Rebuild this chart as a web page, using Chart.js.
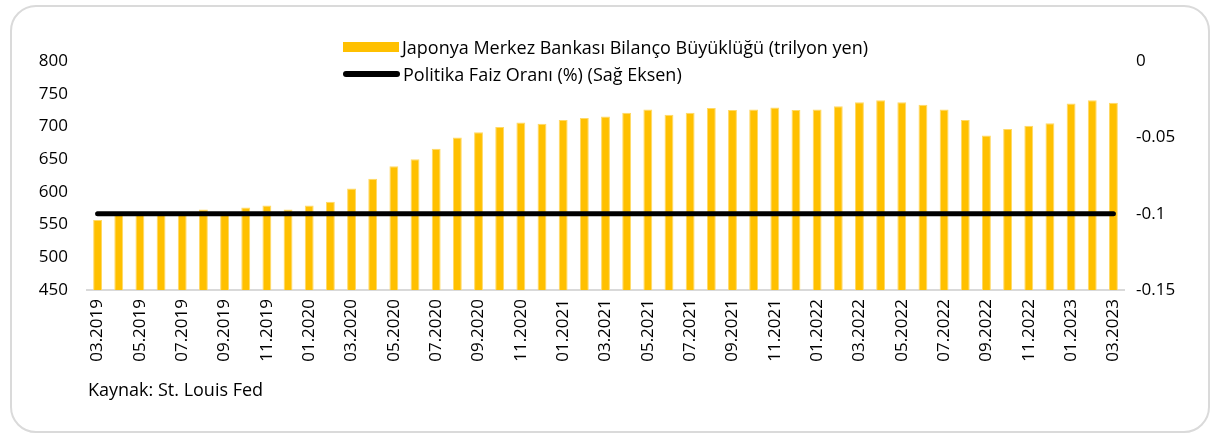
<!DOCTYPE html>
<html>
<head>
<meta charset="utf-8">
<script src="https://cdn.jsdelivr.net/npm/chart.js@4.4.0/dist/chart.umd.min.js"></script>
<style>
  body { margin: 0; background: #fff; font-family: "Open Sans", sans-serif; }
  #wrap { position: relative; width: 1219px; height: 439px; }
  #card {
    position: absolute; left: 10px; top: 5px; width: 1200px; height: 428px;
    border: 2px solid #dadada; border-radius: 26px; box-sizing: border-box;
  }
  #chartBox { position: absolute; left: 0; top: 0; width: 1219px; height: 439px; }
  .leg { position: absolute; left: 343px; font-size: 18px; color: #000; white-space: nowrap; line-height: 24px; }
  .leg span { display: inline-block; vertical-align: middle; }
  .sw-bar { width: 56px; height: 10px; background: #FFC000; margin-right: 3px; }
  .sw-line { width: 57px; height: 6px; background: #000; border-radius: 3px; margin-right: 3px; }
  #source { position: absolute; left: 88px; top: 377px; font-size: 18px; color: #000; line-height: 24px; }
</style>
</head>
<body>
<div id="wrap">
  <div id="card"></div>
  <div id="chartBox"><canvas id="myChart" width="1219" height="439"></canvas></div>
  <div class="leg" style="top:33px"><span class="sw-bar"></span><span>Japonya Merkez Bankası Bilanço Büyüklüğü (trilyon yen)</span></div>
  <div class="leg" style="top:60px"><span class="sw-line"></span><span>Politika Faiz Oranı (%) (Sağ Eksen)</span></div>
  <div id="source">Kaynak: St. Louis Fed</div>
</div>
<script>
const months = [
  '03.2019', '04.2019', '05.2019', '06.2019', '07.2019', '08.2019', '09.2019', '10.2019', '11.2019', '12.2019',
  '01.2020', '02.2020', '03.2020', '04.2020', '05.2020', '06.2020', '07.2020', '08.2020', '09.2020', '10.2020',
  '11.2020', '12.2020', '01.2021', '02.2021', '03.2021', '04.2021', '05.2021', '06.2021', '07.2021', '08.2021',
  '09.2021', '10.2021', '11.2021', '12.2021', '01.2022', '02.2022', '03.2022', '04.2022', '05.2022', '06.2022',
  '07.2022', '08.2022', '09.2022', '10.2022', '11.2022', '12.2022', '01.2023', '02.2023', '03.2023'
];

// BoJ balance sheet, trillion yen
const balanceSheet = [
  557, 566, 566, 567, 567, 573, 569, 576, 579, 573,
  579, 585, 605, 620, 639, 650, 666, 683, 691, 699,
  706, 704, 710, 713, 715, 721, 726, 718, 721, 728,
  725, 726, 729, 725, 726, 731, 737, 740, 737, 733,
  726, 710, 686, 696, 701, 705, 735, 740, 736
];

// policy rate, %
const policyRate = [
  -0.1, -0.1, -0.1, -0.1, -0.1, -0.1, -0.1, -0.1, -0.1, -0.1,
  -0.1, -0.1, -0.1, -0.1, -0.1, -0.1, -0.1, -0.1, -0.1, -0.1,
  -0.1, -0.1, -0.1, -0.1, -0.1, -0.1, -0.1, -0.1, -0.1, -0.1,
  -0.1, -0.1, -0.1, -0.1, -0.1, -0.1, -0.1, -0.1, -0.1, -0.1,
  -0.1, -0.1, -0.1, -0.1, -0.1, -0.1, -0.1, -0.1, -0.1
];

const leftTicks = [450, 500, 550, 600, 650, 700, 750, 800];
const rightTicks = [-0.15, -0.1, -0.05, 0];

const tickFont = { family: 'Open Sans', size: 17 };

const ctx = document.getElementById('myChart').getContext('2d');
new Chart(ctx, {
  data: {
    labels: months,
    datasets: [
      {
        type: 'line',
        label: 'Politika Faiz Oranı (%) (Sağ Eksen)',
        data: policyRate,
        yAxisID: 'y1',
        borderColor: '#000',
        borderWidth: 5,
        borderCapStyle: 'round',
        pointRadius: 0,
        order: 0
      },
      {
        type: 'bar',
        label: 'Japonya Merkez Bankası Bilanço Büyüklüğü (trilyon yen)',
        data: balanceSheet,
        yAxisID: 'y',
        backgroundColor: '#FFC000',
        borderColor: '#FFD966',
        borderWidth: 1,
        barPercentage: 0.42,
        categoryPercentage: 1,
        order: 1
      }
    ]
  },
  options: {
    responsive: false,
    animation: false,
    layout: { padding: { top: 61, left: 0, right: 0, bottom: 0 } },
    plugins: { legend: { display: false }, tooltip: { enabled: false } },
    scales: {
      x: {
        grid: { display: false, drawTicks: false },
        border: { color: '#d9d9d9', width: 2 },
        ticks: {
          autoSkip: false,
          maxRotation: 90,
          minRotation: 90,
          padding: 9,
          color: '#000',
          font: tickFont,
          callback: function (v, i) { return i % 2 === 0 ? months[i] : ''; }
        },
        afterFit: function (s) { s.height = 149; }
      },
      y: {
        position: 'left',
        min: 450,
        max: 800,
        grid: { display: false, drawTicks: false },
        border: { display: false },
        afterBuildTicks: function (s) { s.ticks = leftTicks.map(v => ({ value: v })); },
        ticks: { padding: 19, color: '#000', font: tickFont },
        afterFit: function (s) { s.width = 87; }
      },
      y1: {
        position: 'right',
        min: -0.15,
        max: 0,
        grid: { display: false, drawTicks: false },
        border: { display: false },
        afterBuildTicks: function (s) { s.ticks = rightTicks.map(v => ({ value: v })); },
        ticks: {
          padding: 12,
          color: '#000',
          font: tickFont,
          callback: function (v) { return String(Math.round(v * 100) / 100); }
        },
        afterFit: function (s) { s.width = 95; }
      }
    }
  }
});
</script>
</body>
</html>
